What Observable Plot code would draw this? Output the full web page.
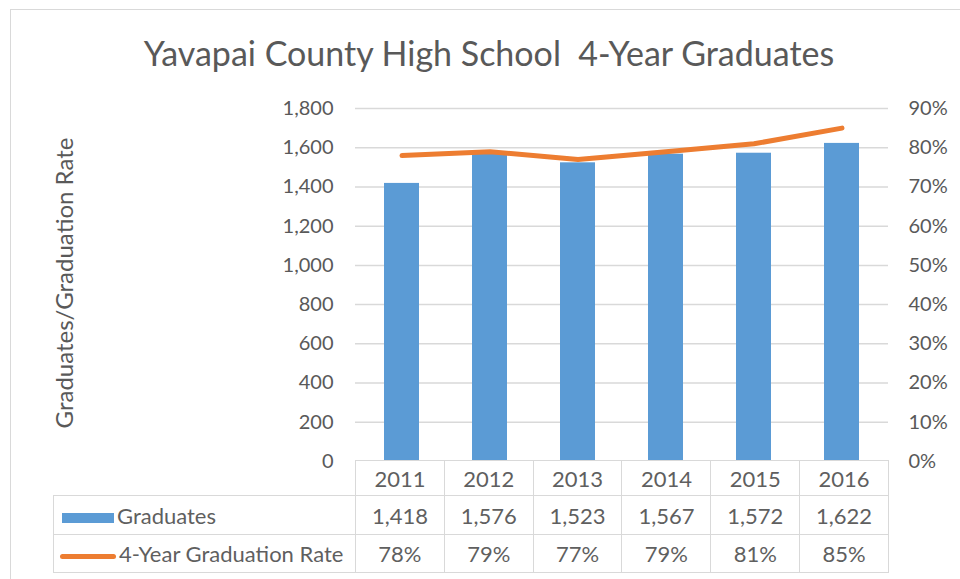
<!DOCTYPE html>
<html><head><meta charset="utf-8">
<script src="https://cdn.jsdelivr.net/npm/d3@7"></script>
<script src="https://cdn.jsdelivr.net/npm/@observablehq/plot@0.6"></script>
<style>
body{margin:0;background:#fff;font-family:Lato,sans-serif;}
#wrap{position:relative;width:960px;height:579px;overflow:hidden;background:#fff}
#frame{position:absolute;left:10px;top:9px;width:1000px;height:1000px;border:1.5px solid #d9d9d9;box-sizing:border-box}
#title{position:absolute;top:32px;left:9px;width:960px;text-align:center;font-size:34px;color:#595959;white-space:pre;line-height:42px}
#ytitle{position:absolute;left:63px;top:283px;transform:translate(-50%,-50%) rotate(-90deg);font-size:24px;color:#595959;white-space:nowrap}
#chart{position:absolute;left:0;top:0}
table{position:absolute;border-collapse:collapse;color:#5f5f5f;font-size:22px;table-layout:fixed}
td{border:1.5px solid #d9d9d9;text-align:center;padding:0;white-space:nowrap}
td.lab{text-align:left;padding-left:8px}
.sw{display:inline-block;vertical-align:middle;margin-right:3px}
</style></head>
<body>
<div id="wrap">
  <div id="frame"></div>
  <div id="title"></div>
  <div id="ytitle"></div>
  <div id="chart"></div>
  <table id="tbl"></table>
</div>
<script>
const titleText = "Yavapai County High School  4-Year Graduates";
const yTitle = "Graduates/Graduation Rate";
const years = ["2011", "2012", "2013", "2014", "2015", "2016"];
const graduates = [1418, 1576, 1523, 1567, 1572, 1622];
const rates = [78, 79, 77, 79, 81, 85];
const leftTicks = [0, 200, 400, 600, 800, 1000, 1200, 1400, 1600, 1800];
const rightTicks = [0, 10, 20, 30, 40, 50, 60, 70, 80, 90];
const seriesNames = ["Graduates", "4-Year Graduation Rate"];
const colors = ["#5b9bd5", "#ed7d31"];

document.getElementById("title").textContent = titleText;
document.getElementById("ytitle").textContent = yTitle;

const data = years.map((y, i) => ({year: y, graduates: graduates[i], rate: rates[i]}));
// secondary axis: rate mapped onto the left scale (90% <-> 1800)
const k = d3.max(leftTicks) / d3.max(rightTicks);

const chart = Plot.plot({
  width: 960, height: 470,
  marginLeft: 355, marginRight: 72, marginTop: 108, marginBottom: 9,
  x: {domain: years, paddingInner: 0.6, paddingOuter: 0.3, axis: null},
  y: {domain: [0, d3.max(leftTicks)], axis: null},
  style: {fontFamily: "Lato, sans-serif", fontSize: "20px", color: "#595959", background: "transparent", overflow: "visible"},
  marks: [
    Plot.gridY(leftTicks.slice(1), {stroke: "#d9d9d9", strokeOpacity: 1, strokeWidth: 1.5}),
    Plot.barY(data, {x: "year", y: "graduates", fill: colors[0]}),
    Plot.lineY(data, {x: "year", y: d => d.rate * k, stroke: colors[1], strokeWidth: 5, strokeLinecap: "round", strokeLinejoin: "round"}),
    Plot.axisY(leftTicks, {anchor: "left", tickSize: 0, tickPadding: 22, tickFormat: d3.format(","), label: null, fill: "#595959"}),
    Plot.axisY(leftTicks, {anchor: "right", tickSize: 0, tickPadding: 20, tickFormat: d => rightTicks[leftTicks.indexOf(d)] + "%", label: null, fill: "#595959"})
  ]
});
document.getElementById("chart").appendChild(chart);

// data table aligned to the x band scale
const xs = chart.scale("x");
const ys = chart.scale("y");
const x0 = xs.range[0], x1 = xs.range[1];
const step = (x1 - x0) / years.length;
const tableLeft = 53;
const tbl = document.getElementById("tbl");
tbl.style.left = tableLeft + "px";
tbl.style.top = (ys.apply(0) - 1) + "px";
tbl.style.width = (x1 - tableLeft) + "px";

let html = `<colgroup><col style="width:${x0 - tableLeft}px">` + years.map(() => `<col style="width:${step}px">`).join("") + `</colgroup>`;
html += `<tr style="height:35px"><td style="border-top:none;border-left:none"></td>` + years.map(y => `<td>${y}</td>`).join("") + `</tr>`;
html += `<tr style="height:39px"><td class="lab"><span class="sw" style="width:52px;height:10px;background:${colors[0]}"></span>${seriesNames[0]}</td>` +
  graduates.map(v => `<td>${d3.format(",")(v)}</td>`).join("") + `</tr>`;
html += `<tr style="height:38px"><td class="lab" style="padding-left:6px"><span class="sw" style="width:56px;height:5px;border-radius:3px;background:${colors[1]}"></span>${seriesNames[1]}</td>` +
  rates.map(v => `<td>${v}%</td>`).join("") + `</tr>`;
tbl.innerHTML = html;
</script>
</body></html>
